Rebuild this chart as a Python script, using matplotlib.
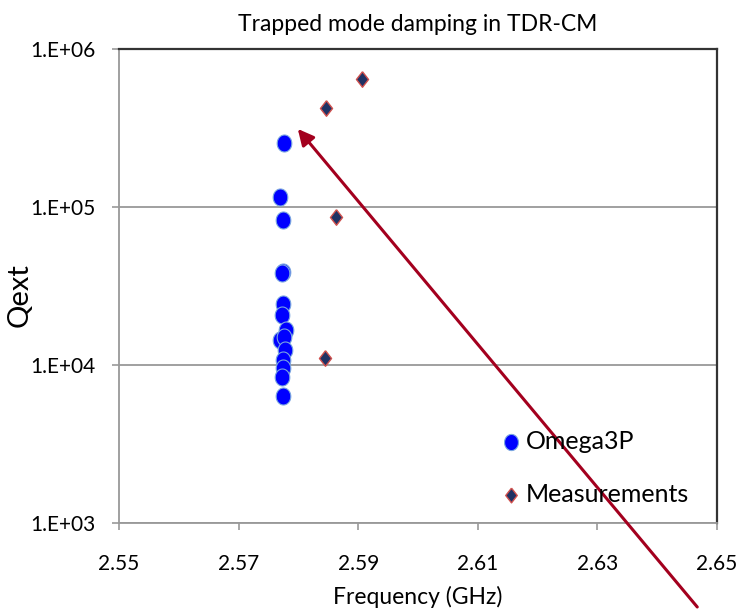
import numpy as np
import matplotlib
matplotlib.use("Agg")
import matplotlib.pyplot as plt
from matplotlib.ticker import FixedLocator, FuncFormatter

plt.rcParams['font.family'] = ['Lato', 'DejaVu Sans']

# Omega3P simulation results
omega_freq = [2.5776, 2.5770, 2.5775, 2.5774, 2.5772, 2.5774, 2.5773,
              2.5779, 2.5770, 2.5776, 2.5777, 2.5775, 2.5774, 2.5772, 2.5774]
omega_q = [2.53e5, 1.15e5, 8.3e4, 3.9e4, 3.82e4, 2.43e4, 2.07e4,
           1.67e4, 1.44e4, 1.51e4, 1.24e4, 1.08e4, 9.6e3, 8.4e3, 6.4e3]

# Measurements
meas_freq = [2.5846, 2.5906, 2.5863, 2.5844]
meas_q = [4.22e5, 6.46e5, 8.7e4, 1.11e4]

# markers are slightly taller than wide in the original
t = np.linspace(0, 2 * np.pi, 60)
ellipse = np.column_stack([0.86 * np.cos(t), np.sin(t)])
diamond = np.array([[0, 1], [0.78, 0], [0, -1], [-0.78, 0], [0, 1]])

fig = plt.figure(figsize=(7.4, 6.11), dpi=100)
ax = fig.add_axes([119 / 740, 88 / 611, 598 / 740, 474 / 611])

ax.scatter(omega_freq, omega_q, s=150, marker=ellipse, color='#0000ff',
           edgecolors='#7aa6e0', linewidths=0.8, label='Omega3P', zorder=3)
ax.scatter(meas_freq, meas_q, s=125, marker=diamond, color='#1f3264',
           edgecolors='#d0504d', linewidths=1.0, label='Measurements', zorder=3)

ax.set_yscale('log')
ax.set_xlim(2.55, 2.65)
ax.set_ylim(1e3, 1e6)
ax.xaxis.set_major_locator(FixedLocator([2.55, 2.57, 2.59, 2.61, 2.63, 2.65]))
ax.xaxis.set_major_formatter(FuncFormatter(lambda v, p: f"{v:.2f}"))
ax.yaxis.set_major_locator(FixedLocator([1e3, 1e4, 1e5, 1e6]))
ax.yaxis.set_minor_locator(FixedLocator([]))
ax.yaxis.set_major_formatter(FuncFormatter(lambda v, p: f"1.E+{int(round(np.log10(v))):02d}"))
ax.tick_params(axis='both', labelsize=15, length=5, width=1.2, color='#999999', direction='out')
ax.tick_params(axis='x', pad=17)
ax.tick_params(axis='y', pad=12)
ax.grid(axis='y', color='#999999', linewidth=1.3)
ax.set_axisbelow(True)

for side in ['left', 'bottom']:
    ax.spines[side].set_color('#999999')
    ax.spines[side].set_linewidth(1.3)
for side in ['top', 'right']:
    ax.spines[side].set_color('#333333')
    ax.spines[side].set_linewidth(1.6)

ax.set_title('Trapped mode damping in TDR-CM', fontsize=16.5, pad=13)
ax.set_xlabel('Frequency (GHz)', fontsize=16.5, labelpad=9)
ax.set_ylabel('Qext', fontsize=21)
ax.yaxis.set_label_coords(-0.145, 0.48)

ax.legend(loc='center left', bbox_to_anchor=(0.618, 0.117), frameon=False,
          fontsize=18, handlelength=1.0, handletextpad=0.1, labelspacing=1.2,
          markerscale=0.95, borderaxespad=0.0)

# arrow pointing at the top simulated mode
ax.annotate('', xy=(2.5799, 3.12e5), xytext=(2.6467, 294),
            arrowprops=dict(arrowstyle='-|>', color='#a3001e', lw=2.2,
                            mutation_scale=24, shrinkA=0, shrinkB=0),
            annotation_clip=False, zorder=5)

fig.savefig('out.png', dpi=100)
